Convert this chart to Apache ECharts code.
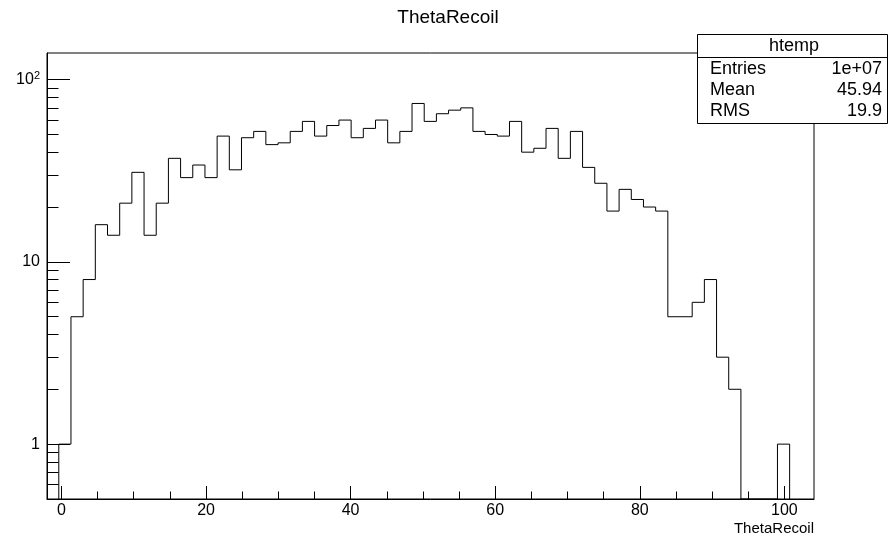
<!DOCTYPE html>
<html>
<head>
<meta charset="utf-8">
<script src="https://cdn.jsdelivr.net/npm/echarts@6/dist/echarts.min.js"></script>
<style>
  html, body { margin: 0; padding: 0; background: #fff; }
  #chart { width: 896px; height: 539px; }
</style>
</head>
<body>
<div id="chart"></div>
<script>
// histogram binning and bin contents
const binStart = -0.37;
const binWidth = 1.685;
const counts = [
  1, 5, 8, 16, 14, 21, 31, 14, 21, 37,
  29, 34, 29, 49, 32, 48, 52, 44, 45, 52,
  59, 49, 56, 60, 48, 54, 60, 45, 52, 74,
  59, 65, 68, 70, 52, 50, 49, 59, 40, 42,
  54, 37, 52, 33, 27, 19, 25, 22, 20, 19,
  5, 5, 6, 8, 3, 2, 0, 0, 0, 1
];

// axis ticks
const xMajorTicks = [0, 20, 40, 60, 80, 100];
const xMinorTicks = [0, 5, 10, 15, 20, 25, 30, 35, 40, 45, 50, 55, 60, 65, 70, 75, 80, 85, 90, 95, 100];
const yMajorTicks = [1, 10, 100];
const yMinorTicks = [0.6, 0.7, 0.8, 0.9, 2, 3, 4, 5, 6, 7, 8, 9, 20, 30, 40, 50, 60, 70, 80, 90];

// stats box
const histName = 'htemp';
const statLabels = ['Entries', 'Mean', 'RMS'];
const statValues = ['1e+07', '45.94', '19.9'];

const FONT = '"Liberation Sans", Arial, Helvetica, sans-serif';

// [left edge, right edge, content, previous content]
const bins = counts.map((c, i) => [
  binStart + i * binWidth,
  binStart + (i + 1) * binWidth,
  c,
  i > 0 ? counts[i - 1] : 0
]);

function renderBin(params, api) {
  const cs = params.coordSys;
  const bottom = cs.y + cs.height;
  const yOf = v => (v > 0 ? api.coord([0, v])[1] : bottom);
  const xl = api.coord([api.value(0), 1])[0];
  const xr = api.coord([api.value(1), 1])[0];
  const y = yOf(api.value(2));
  const yPrev = yOf(api.value(3));
  const pts = [[xl, yPrev], [xl, y], [xr, y]];
  if (params.dataIndex === counts.length - 1) pts.push([xr, bottom]);
  return {
    type: 'polyline',
    shape: { points: pts },
    style: { stroke: '#000', lineWidth: 1, fill: null }
  };
}

const chart = echarts.init(document.getElementById('chart'));

const statTexts = [];
statLabels.forEach((lab, i) => {
  statTexts.push({
    type: 'text', z: 12, left: 710, top: 60 + i * 21,
    style: { text: lab, font: '18px ' + FONT, fill: '#000' }
  });
  statTexts.push({
    type: 'text', z: 12, right: 14, top: 60 + i * 21,
    style: { text: statValues[i], font: '18px ' + FONT, fill: '#000', align: 'right' }
  });
});

chart.setOption({
  backgroundColor: '#fff',
  animation: false,
  title: {
    text: 'ThetaRecoil',
    left: 'center',
    top: 3,
    textStyle: { fontFamily: FONT, fontSize: 19, fontWeight: 'normal', color: '#000' }
  },
  grid: {
    left: 47, right: 82, top: 53, bottom: 40,
    show: true, borderColor: '#000', borderWidth: 1,
    outerBoundsMode: 'none'
  },
  xAxis: [
    {
      type: 'value', min: -2.0, max: 104.1,
      axisLine: { show: true, onZero: false, lineStyle: { color: '#000', width: 1 } },
      axisTick: { show: true, inside: true, length: 13, customValues: xMajorTicks, lineStyle: { color: '#000' } },
      axisLabel: { show: true, customValues: xMajorTicks, margin: 4, color: '#000', fontFamily: FONT, fontSize: 16 },
      splitLine: { show: false },
      name: 'ThetaRecoil',
      nameLocation: 'end',
      nameGap: 0,
      nameTextStyle: { fontFamily: FONT, fontSize: 15, color: '#000', align: 'right', verticalAlign: 'top', padding: [22, 0, 0, 0] }
    },
    {
      type: 'value', min: -2.0, max: 104.1, position: 'bottom',
      axisLine: { show: false, onZero: false },
      axisTick: { show: true, inside: true, length: 7.5, customValues: xMinorTicks, lineStyle: { color: '#000' } },
      axisLabel: { show: false },
      splitLine: { show: false }
    }
  ],
  yAxis: [
    {
      type: 'log', logBase: 10, min: 0.5, max: 140,
      axisLine: { show: true, onZero: false, lineStyle: { color: '#000', width: 1 } },
      axisTick: { show: true, inside: true, length: 23, customValues: yMajorTicks, lineStyle: { color: '#000' } },
      axisLabel: {
        show: true, customValues: yMajorTicks, margin: 7, color: '#000', fontFamily: FONT, fontSize: 16,
        formatter: v => (v >= 100 ? '{b|10}{s|2}' : String(v)),
        rich: {
          b: { fontFamily: FONT, fontSize: 16, color: '#000' },
          s: { fontFamily: FONT, fontSize: 11, color: '#000', verticalAlign: 'top', padding: [0, 0, 7, 0] }
        }
      },
      splitLine: { show: false }
    },
    {
      type: 'log', logBase: 10, min: 0.5, max: 140, position: 'left',
      axisLine: { show: false, onZero: false },
      axisTick: { show: true, inside: true, length: 11.5, customValues: yMinorTicks, lineStyle: { color: '#000' } },
      axisLabel: { show: false },
      splitLine: { show: false }
    }
  ],
  series: [
    {
      type: 'custom',
      name: histName,
      xAxisIndex: 0,
      yAxisIndex: 0,
      renderItem: renderBin,
      encode: { x: [0, 1], y: [2] },
      data: bins,
      z: 5
    }
  ],
  graphic: [
    {
      type: 'rect', z: 10,
      shape: { x: 697.5, y: 34.5, width: 190, height: 89 },
      style: { fill: '#fff', stroke: '#000', lineWidth: 1 }
    },
    {
      type: 'line', z: 11,
      shape: { x1: 697.5, y1: 57.5, x2: 887.5, y2: 57.5 },
      style: { stroke: '#000', lineWidth: 1 }
    },
    {
      type: 'text', z: 12, left: 769, top: 37,
      style: { text: histName, font: '18px ' + FONT, fill: '#000' }
    }
  ].concat(statTexts)
});
</script>
</body>
</html>
